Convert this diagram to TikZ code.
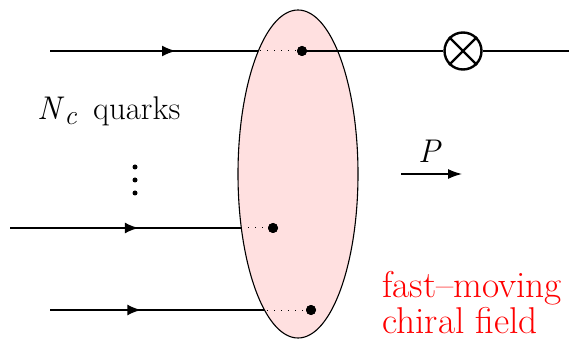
\documentclass[tikz,border=0pt]{standalone}
\usetikzlibrary{arrows.meta,decorations.markings}

\tikzset{
  quark/.style={line width=2.2pt},
  vertex/.style={circle, fill=black, inner sep=0pt, minimum size=10pt},
  midarrow/.style={postaction={decorate, decoration={markings,
      mark=at position #1 with {\arrow{Latex[length=14pt,width=11pt]}}}}},
  label/.style={inner sep=0pt, font=\fontsize{24.88}{30}\selectfont},
}
\newcommand{\bigtext}[2]{\scalebox{#1}{#2}}

\begin{document}
\begin{tikzpicture}[x=1pt, y=1pt]

  \useasboundingbox (0,0) rectangle (586,340);

  % Chiral field
  \def\rx{60}
  \def\ry{164}
  \fill[red!12] (298,166) ellipse ({\rx} and {\ry});

  % Quark lines
  \coordinate (q1) at (50,289);
  \coordinate (q2) at (10,112);
  \coordinate (q3) at (50,30);
  \coordinate (out) at (569,289);

  \node[vertex] (v1) at (302,289) {};
  \node[vertex] (v2) at (273,112) {};
  \node[vertex] (v3) at (311,30)  {};

  % Solid parts outside, dotted parts inside the field
  \begin{scope}
    \clip (-10,-10) rectangle (600,350) (298,166) ellipse ({\rx} and {\ry});
    \draw[quark, midarrow=0.5]  (q1) -- (v1.center);
    \draw[quark, midarrow=0.49] (q2) -- (v2.center);
    \draw[quark, midarrow=0.35] (q3) -- (v3.center);
  \end{scope}
  \begin{scope}
    \clip (298,166) ellipse ({\rx} and {\ry});
    \draw[line width=1pt, dash pattern=on 1pt off 6pt] (q1) -- (v1);
    \draw[line width=1pt, dash pattern=on 1pt off 6pt] (q2) -- (v2);
    \draw[line width=1pt, dash pattern=on 1pt off 6pt] (q3) -- (v3);
  \end{scope}

  % Outline
  \draw[line width=1.1pt] (298,166) ellipse ({\rx} and {\ry});
  \node[vertex] at (v1) {};
  \node[vertex] at (v2) {};
  \node[vertex] at (v3) {};

  % Outgoing quark and measurement
  \node[circle, draw, line width=2.4pt, minimum size=37pt, inner sep=0pt] (meas) at (463,289) {};
  \draw[line width=2.4pt] (meas.45) -- (meas.225);
  \draw[line width=2.4pt] (meas.135) -- (meas.315);
  \draw[quark] (v1.center) -- (meas);
  \draw[quark] (meas) -- (out);

  % Dots
  \fill (135,173) circle (2.5);
  \fill (135,160) circle (2.5);
  \fill (135,147) circle (2.5);

  % Labels
  \node[label, anchor=base west] (nc) at (37,220)
    {\bigtext{1.32}{\textit{N}\textsubscript{\textit{c}}\, quarks}};
  \node[label, anchor=base west] (p) at (418,177) {\bigtext{1.32}{\textit{P}}};
  \coordinate (pa) at (401,166);
  \coordinate (pb) at (462,166);
  \draw[line width=1.4pt, -{Latex[length=14pt,width=10pt]}] (pa) -- (pb);
  \node[label, anchor=base west, text=red] (lbl) at (382,7)
    {\bigtext{1.5}{\vbox{\baselineskip=18.7pt \hbox{fast--moving}\hbox{chiral field}}}};

\end{tikzpicture}
\end{document}
